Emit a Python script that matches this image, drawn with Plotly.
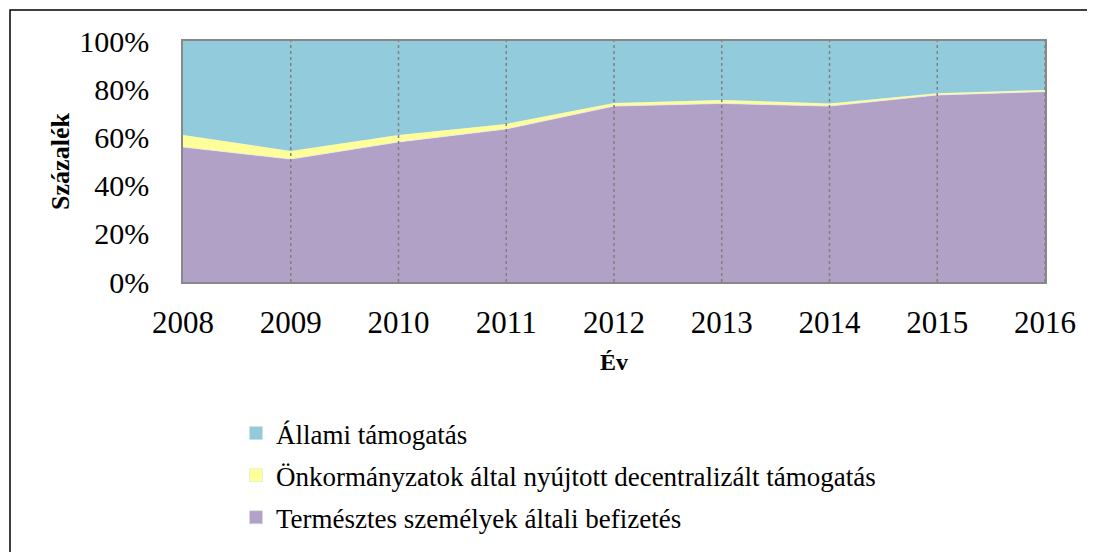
import plotly.graph_objects as go

years = [2008, 2009, 2010, 2011, 2012, 2013, 2014, 2015, 2016]
termeszetes = [56.0, 51.0, 58.1, 63.5, 73.0, 74.1, 73.0, 77.6, 79.0]
onkormanyzat = [5.0, 3.4, 2.9, 2.1, 1.3, 1.4, 1.1, 0.7, 0.7]
allami = [round(100 - a - b, 1) for a, b in zip(termeszetes, onkormanyzat)]

y_ticks = [0, 20, 40, 60, 80, 100]
y_ticktext = [f"{v}%" for v in y_ticks]

names = ["Állami támogatás",
         "Önkormányzatok által nyújtott decentralizált támogatás",
         "Természtes személyek általi befizetés"]
colors = {"blue": "#92CBDC", "yellow": "#FFFF99", "purple": "#B1A1C7"}

fig = go.Figure()
fig.add_trace(go.Scatter(x=years, y=termeszetes, stackgroup="one", mode="lines",
                         line=dict(width=0.8, color="#E8E4EE"), fillcolor=colors["purple"],
                         name=names[2], showlegend=False))
fig.add_trace(go.Scatter(x=years, y=onkormanyzat, stackgroup="one", mode="lines",
                         line=dict(width=0), fillcolor=colors["yellow"],
                         name=names[1], showlegend=False))
fig.add_trace(go.Scatter(x=years, y=allami, stackgroup="one", mode="lines",
                         line=dict(width=0), fillcolor=colors["blue"],
                         name=names[0], showlegend=False))

for nm, c, g in zip(names, [colors["blue"], colors["yellow"], colors["purple"]], ["a", "b", "c"]):
    fig.add_trace(go.Scatter(x=[None], y=[None], mode="markers", name=nm, legendgroup=g,
                             marker=dict(symbol="square", size=13, color=c,
                                         line=dict(width=0.5, color="#DDDDDD"))))

# page is offset by the 8px body margin
OFF = 8
W, H = 1095 - OFF, 552 - OFF
L, R, T, B = 183, 1045, 41, 282  # plot area in screen px
ml, mr, mt, mb = L - OFF, W - (R - OFF), T - OFF, H - (B - OFF)
pw, ph = R - L, B - T

def px(x):
    return (x - L) / pw

def py(y):
    return (B - y) / ph

shapes = []
for yr in years[1:]:
    shapes.append(dict(type="line", xref="x", yref="paper", x0=yr, x1=yr, y0=0, y1=1,
                       line=dict(color="#808080", width=1.5, dash="dot"), layer="above"))
shapes.append(dict(type="rect", xref="paper", yref="paper",
                   x0=px(10), x1=px(1110), y0=py(570), y1=py(10),
                   line=dict(color="black", width=1.5), layer="above"))

FF = "'Liberation Serif', 'Times New Roman', serif"
fig.update_layout(
    width=W, height=H,
    margin=dict(l=ml, r=mr, t=mt, b=mb, autoexpand=False),
    paper_bgcolor="white", plot_bgcolor="white",
    font=dict(family=FF, color="black"),
    shapes=shapes,
    showlegend=True,
    legend=dict(x=px(236), y=py(409), xanchor="left", yanchor="top",
                font=dict(size=27, family=FF), traceorder="grouped",
                tracegroupgap=4, bgcolor="rgba(0,0,0,0)", itemwidth=30),
    xaxis=dict(range=[2008, 2016], tickvals=years, ticktext=[str(y) for y in years],
               tickfont=dict(size=31, family=FF), showgrid=False, zeroline=False,
               showline=True, linecolor="#888888", linewidth=1.5, mirror=True,
               ticks="", ticklabelstandoff=12, automargin=False,
               title=dict(text="<b>Év</b>", font=dict(size=24, family=FF), standoff=14)),
    yaxis=dict(range=[0, 100], tickvals=y_ticks, ticktext=y_ticktext,
               tickfont=dict(size=30, family=FF), showgrid=False, zeroline=False,
               showline=True, linecolor="#888888", linewidth=1.5, mirror=True,
               ticks="", ticklabelstandoff=26, automargin=False,
               title=dict(text="<b>Százalék</b>", font=dict(size=26, family=FF), standoff=2)),
)

fig.write_html("out.html")
